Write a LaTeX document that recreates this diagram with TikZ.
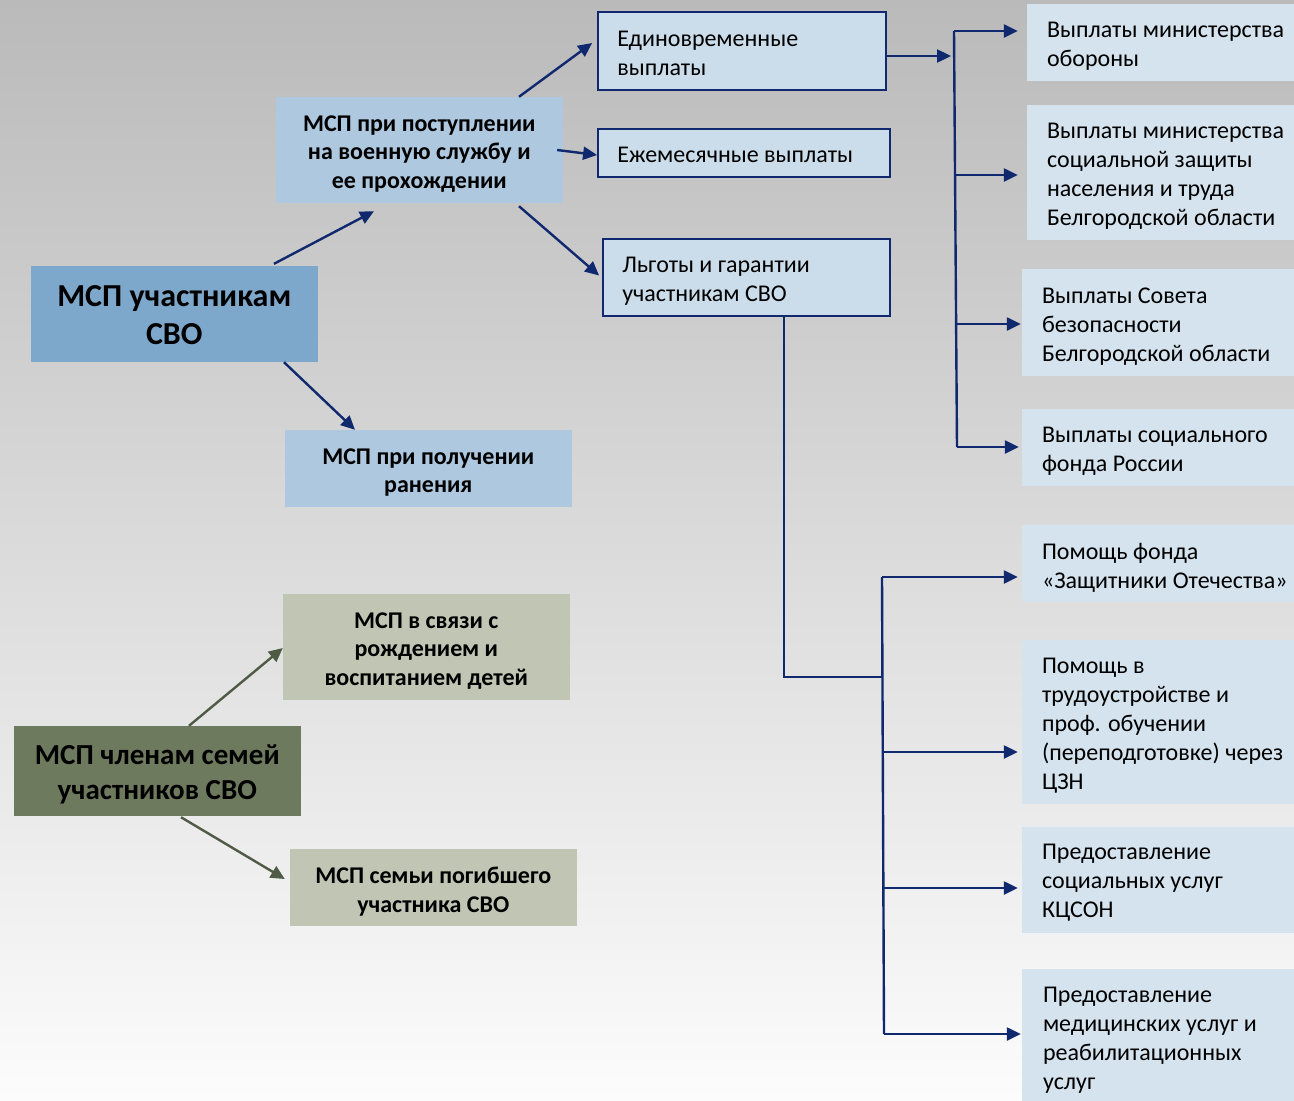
\documentclass[tikz,border=0pt]{standalone}
\usepackage{fontspec}
\setmainfont{Carlito}
\usetikzlibrary{arrows.meta}
\definecolor{navy}{RGB}{16,40,110}
\definecolor{fillA}{RGB}{126,168,203}
\definecolor{fillB}{RGB}{173,200,223}
\definecolor{fillD}{RGB}{203,221,234}
\definecolor{fillR}{RGB}{212,227,237}
\definecolor{fillG}{RGB}{110,122,94}
\definecolor{fillGl}{RGB}{192,197,180}
\definecolor{garr}{RGB}{79,91,69}
\definecolor{bgtop}{RGB}{186,186,186}
\definecolor{bgmid}{RGB}{232,232,232}
\definecolor{bgbot}{RGB}{252,252,252}
\newcommand\fbig{\fontsize{32}{38}\selectfont\bfseries}
\newcommand\fbigg{\fontsize{29}{35}\selectfont\bfseries}
\newcommand\fmid{\fontsize{24}{28.5}\selectfont\bfseries}
\newcommand\freg{\fontsize{24}{29}\selectfont}
\begin{document}
\begin{tikzpicture}[x=1pt,y=-1pt,
  cbox/.style={rectangle, inner sep=0pt, minimum width=287pt},
  ctext/.style={anchor=center, xshift=143.5pt, yshift=-4pt, align=center, inner sep=0pt, font=\fmid},
  lbox/.style={rectangle, inner sep=0pt},
  ltext/.style={anchor=west, xshift=20pt, yshift=-4pt, align=left, inner sep=0pt, font=\freg},
  narr/.style={draw=navy, line width=2.4pt, -{Triangle[length=14pt,width=13pt]}},
  nline/.style={draw=navy, line width=2.4pt},
  garrow/.style={draw=garr, line width=2.4pt, -{Triangle[length=14pt,width=13pt]}}
]
\shade[top color=bgtop, middle color=bgmid, bottom color=bgbot] (0,0) rectangle (1294,1101);
\useasboundingbox (0,0) rectangle (1294,1101);

% left blue group
\node[cbox, fill=fillA, minimum height=96pt,
  label={[ctext, yshift=2.5pt, font=\fbig]west:{МСП участникам\\СВО}}] (A) at (174.5,314) {};
\node[cbox, fill=fillB, minimum height=106pt,
  label={[ctext]west:{МСП при поступлении\\на военную службу и\\ее прохождении}}] (B) at (419.5,150) {};
\node[cbox, fill=fillB, minimum height=77pt,
  label={[ctext]west:{МСП при получении\\ранения}}] (C) at (428.5,468.5) {};

% bordered middle boxes
\node[lbox, fill=fillD, draw=navy, line width=1.8pt, minimum width=288pt, minimum height=78pt,
  label={[ltext, yshift=2pt]west:{Единовременные\\выплаты}}] (D) at (742,51) {};
\node[lbox, fill=fillD, draw=navy, line width=1.8pt, minimum width=292pt, minimum height=48pt,
  label={[ltext, yshift=2pt]west:{Ежемесячные выплаты}}] (E) at (744,153) {};
\node[lbox, fill=fillD, draw=navy, line width=1.8pt, minimum width=287pt, minimum height=77pt,
  label={[ltext]west:{Льготы и гарантии\\участникам СВО}}] (F) at (746.5,277.5) {};

% right boxes
\node[lbox, fill=fillR, minimum width=267pt, minimum height=77pt,
  label={[ltext]west:{Выплаты министерства\\обороны}}] (R1) at (1160.5,42.5) {};
\node[lbox, fill=fillR, minimum width=267pt, minimum height=135pt,
  label={[ltext]west:{Выплаты министерства\\социальной защиты\\населения и труда\\Белгородской области}}] (R2) at (1160.5,172.5) {};
\node[lbox, fill=fillR, minimum width=272pt, minimum height=107pt,
  label={[ltext]west:{Выплаты Совета\\безопасности\\Белгородской области}}] (R3) at (1158,322.5) {};
\node[lbox, fill=fillR, minimum width=272pt, minimum height=77pt,
  label={[ltext]west:{Выплаты социального\\фонда России}}] (R4) at (1158,447.5) {};
\node[lbox, fill=fillR, minimum width=272pt, minimum height=77pt,
  label={[ltext]west:{Помощь фонда\\«Защитники Отечества»}}] (R5) at (1158,563.5) {};
\node[lbox, fill=fillR, minimum width=272pt, minimum height=164pt,
  label={[ltext]west:{Помощь в\\трудоустройстве и\\проф. обучении\\(переподготовке) через\\ЦЗН}}] (R6) at (1158,722) {};
\node[lbox, fill=fillR, minimum width=272pt, minimum height=106pt,
  label={[ltext, yshift=1pt]west:{Предоставление\\социальных услуг\\КЦСОН}}] (R7) at (1158,880) {};
\node[lbox, fill=fillR, minimum width=272pt, minimum height=134pt,
  label={[ltext, xshift=1pt]west:{Предоставление\\медицинских услуг и\\реабилитационных\\услуг}}] (R8) at (1158,1036) {};

% green group
\node[cbox, fill=fillG, minimum height=90pt,
  label={[ctext, yshift=1pt, font=\fbigg]west:{МСП членам семей\\участников СВО}}] (G) at (157.5,771) {};
\node[cbox, fill=fillGl, minimum height=106pt,
  label={[ctext]west:{МСП в связи с\\рождением и\\воспитанием детей}}] (G1) at (426.5,647) {};
\node[cbox, fill=fillGl, minimum height=77pt,
  label={[ctext]west:{МСП семьи погибшего\\участника СВО}}] (G2) at (433.5,887.5) {};

% bracket coordinates
\coordinate (k1) at (954,31);
\coordinate (k2) at (955,175);
\coordinate (k3) at (956,324);
\coordinate (k4) at (957,447);
\coordinate (k5) at (882,577);
\coordinate (j) at (883,677);
\coordinate (k6) at (884,752);
\coordinate (k7) at (884,888);
\coordinate (k8) at (884,1034);

% connectors (blue)
\draw[narr] ([xshift=99.5pt,yshift=2pt]A.north) -- ([xshift=-45.5pt,yshift=-8pt]B.south);
\draw[narr] ([xshift=109.5pt]A.south) -- ([xshift=-73.5pt]C.north);
\draw[narr] ([xshift=99.5pt]B.north) -- ([xshift=-5pt,yshift=8pt]D.west);
\draw[narr] ([xshift=-6pt]B.east) -- ([yshift=-2pt]E.west);
\draw[narr] ([xshift=99.5pt,yshift=-3pt]B.south) -- ([xshift=-3pt,yshift=2pt]F.west);
\draw[narr, shorten >=3pt] ([yshift=-5pt]D.east) -- ([yshift=-5pt]D.east -| k1);

\draw[nline] (k1) -- (k4);
\draw[narr, shorten >=9pt] (k1) -- (k1 -| R1.west);
\draw[narr, shorten >=9pt] (k2) -- (k2 -| R2.west);
\draw[narr, shorten >=1pt] (k3) -- (k3 -| R3.west);
\draw[narr, shorten >=3pt] (k4) -- (k4 -| R4.west);

\draw[nline] ([xshift=37.5pt]F.south) |- (j);
\draw[nline] (k5) -- (k8);
\draw[narr, shorten >=4pt] (k5) -- (k5 -| R5.west);
\draw[narr, shorten >=4pt] (k6) -- (k6 -| R6.west);
\draw[narr, shorten >=4pt] (k7) -- (k7 -| R7.west);
\draw[narr, shorten >=1pt] (k8) -- (k8 -| R8.west);

% green connectors
\draw[garrow] ([xshift=31.5pt]G.north) -- ([yshift=-1pt]G1.west);
\draw[garrow] ([xshift=23.5pt,yshift=-1pt]G.south) -- ([xshift=-5pt,yshift=8.5pt]G2.west);
\end{tikzpicture}
\end{document}
